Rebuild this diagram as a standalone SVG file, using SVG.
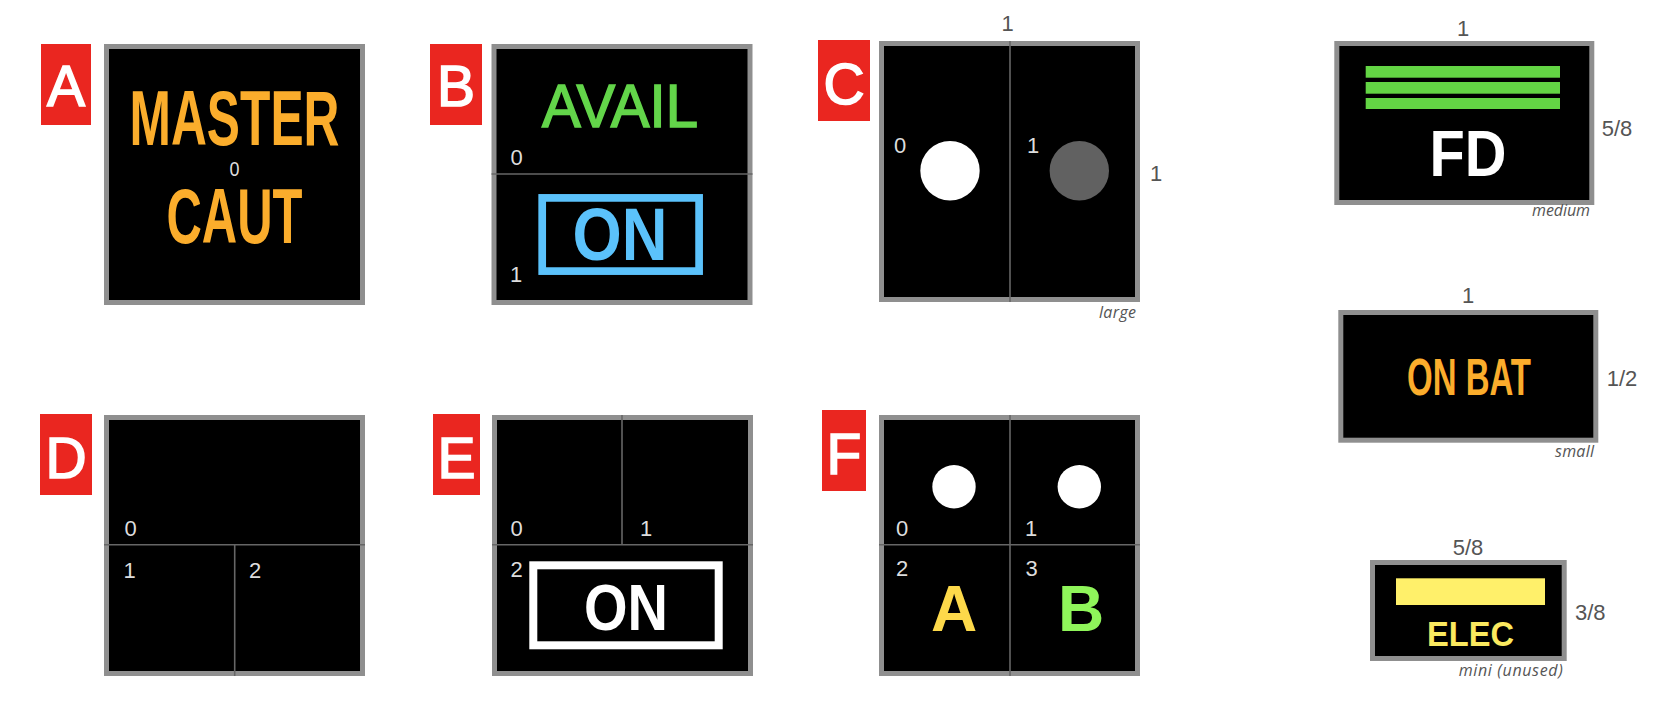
<svg xmlns="http://www.w3.org/2000/svg" width="1673" height="719" viewBox="0 0 1673 719">
<style>
.bg{fill:#ffffff}
.box{fill:#000000;stroke:#8f8f8f;stroke-width:5}
.div{stroke:#666666;stroke-width:1.6;fill:none}
.tag{fill:#ea2620}
.tagt{fill:#ffffff;font-family:"Liberation Sans",Arial,sans-serif;font-size:57px;text-anchor:middle;stroke:#ffffff;stroke-width:1.6}
.idx{fill:#dddddd;font-family:"Liberation Sans",Arial,sans-serif;font-size:22px}
.dim{fill:#555555;font-family:"Liberation Sans",Arial,sans-serif;font-size:22px}
.note{fill:#555555;font-family:"Open Sans","Noto Sans",sans-serif;font-style:italic;font-size:16px;text-anchor:end}
.cond{font-family:"Liberation Sans",Arial,sans-serif;font-weight:bold;text-anchor:middle}
</style>
<rect class="bg" x="0" y="0" width="1673" height="719"/>

<g id="node-A">
  <rect class="tag" x="41" y="44" width="50" height="81"/>
  <text class="tagt" x="66" y="106">A</text>
  <rect class="box" x="106.5" y="46.5" width="256" height="256"/>
  <text class="cond" x="234.5" y="145" font-size="77" fill="#fbad2c" textLength="210" lengthAdjust="spacingAndGlyphs">MASTER</text>
  <text class="cond" x="234.5" y="243" font-size="78" fill="#fbad2c" textLength="136" lengthAdjust="spacingAndGlyphs">CAUT</text>
  <text x="234.5" y="175.7" fill="#dddddd" font-family="Liberation Sans, Arial, sans-serif" font-size="20" text-anchor="middle" textLength="10" lengthAdjust="spacingAndGlyphs">0</text>
</g>

<g id="node-B">
  <rect class="tag" x="430" y="44" width="52" height="81"/>
  <text class="tagt" x="456" y="106">B</text>
  <rect class="box" x="494" y="46.5" width="256" height="256"/>
  <line class="div" x1="491.5" y1="174" x2="752.5" y2="174"/>
  <text x="620" y="127.3" fill="#63d54a" stroke="#63d54a" stroke-width="1.6" font-family="Liberation Sans, Arial, sans-serif" font-size="61.5" text-anchor="middle" textLength="156" lengthAdjust="spacingAndGlyphs">AVAIL</text>
  <rect x="542.2" y="197.9" width="156.9" height="73.2" fill="none" stroke="#5bc2fb" stroke-width="7.7"/>
  <text class="cond" x="620" y="260" font-size="74" fill="#5bc2fb" textLength="95" lengthAdjust="spacingAndGlyphs">ON</text>
  <text class="idx" x="510.5" y="165">0</text>
  <text class="idx" x="510" y="281.7">1</text>
</g>

<g id="node-C">
  <rect class="tag" x="818" y="40" width="52" height="81"/>
  <text class="tagt" x="844" y="104">C</text>
  <rect class="box" x="881.5" y="43.5" width="256" height="256"/>
  <line class="div" x1="1010" y1="41" x2="1010" y2="302"/>
  <circle cx="950" cy="170.7" r="29.7" fill="#ffffff"/>
  <circle cx="1079.3" cy="170.7" r="29.7" fill="#616161"/>
  <text class="idx" x="894" y="153">0</text>
  <text class="idx" x="1027" y="153">1</text>
  <text class="dim" x="1007.7" y="30.7" text-anchor="middle">1</text>
  <text class="dim" x="1150" y="181">1</text>
  <text class="note" x="1136" y="318" textLength="37" lengthAdjust="spacing">large</text>
</g>

<g id="node-D">
  <rect class="tag" x="40" y="414" width="52" height="81"/>
  <text class="tagt" x="66" y="477.5">D</text>
  <rect class="box" x="106.5" y="417.5" width="256" height="256"/>
  <line class="div" x1="104" y1="544.7" x2="365" y2="544.7"/>
  <line class="div" x1="234.7" y1="544.7" x2="234.7" y2="676"/>
  <text class="idx" x="124.5" y="536">0</text>
  <text class="idx" x="123.5" y="578">1</text>
  <text class="idx" x="249" y="578">2</text>
</g>

<g id="node-E">
  <rect class="tag" x="433" y="414" width="47" height="81"/>
  <text class="tagt" x="456.5" y="477.5">E</text>
  <rect class="box" x="494.5" y="417.5" width="256" height="256"/>
  <line class="div" x1="492" y1="544.7" x2="753" y2="544.7"/>
  <line class="div" x1="622" y1="415" x2="622" y2="544.7"/>
  <rect x="533.3" y="565.3" width="185.4" height="80" fill="none" stroke="#ffffff" stroke-width="8"/>
  <text class="cond" x="626" y="630" font-size="65.6" fill="#ffffff" textLength="84" lengthAdjust="spacingAndGlyphs">ON</text>
  <text class="idx" x="510.5" y="536">0</text>
  <text class="idx" x="640" y="536">1</text>
  <text class="idx" x="510.5" y="576.7">2</text>
</g>

<g id="node-F">
  <rect class="tag" x="822" y="410" width="44" height="81"/>
  <text class="tagt" x="844" y="473.5">F</text>
  <rect class="box" x="881.5" y="417.5" width="256" height="256"/>
  <line class="div" x1="879" y1="544.7" x2="1140" y2="544.7"/>
  <line class="div" x1="1010" y1="415" x2="1010" y2="676"/>
  <circle cx="954" cy="486.7" r="21.7" fill="#ffffff"/>
  <circle cx="1079.3" cy="486.7" r="21.7" fill="#ffffff"/>
  <text class="idx" x="896" y="536">0</text>
  <text class="idx" x="1025" y="536">1</text>
  <text class="idx" x="896" y="576">2</text>
  <text class="idx" x="1025.5" y="576">3</text>
  <text class="cond" x="954" y="630.7" font-size="64" fill="#fdd94a">A</text>
  <text class="cond" x="1081" y="630.7" font-size="64" fill="#8ff55a">B</text>
</g>

<g id="node-FD">
  <rect class="box" x="1336.8" y="43.5" width="255" height="159"/>
  <rect x="1365.7" y="66" width="194.3" height="11.7" fill="#63d544"/>
  <rect x="1365.7" y="82" width="194.3" height="11.7" fill="#63d544"/>
  <rect x="1365.7" y="98" width="194.3" height="11" fill="#63d544"/>
  <text class="cond" x="1468" y="176" font-size="64" fill="#ffffff" textLength="77" lengthAdjust="spacingAndGlyphs">FD</text>
  <text class="dim" x="1463" y="36" text-anchor="middle">1</text>
  <text class="dim" x="1601.7" y="136">5/8</text>
  <text class="note" x="1590" y="216" textLength="58" lengthAdjust="spacing">medium</text>
</g>

<g id="node-ONBAT">
  <rect class="box" x="1340.8" y="312.5" width="255" height="127.7"/>
  <text class="cond" x="1469" y="395" font-size="51" fill="#fbad2c" textLength="124" lengthAdjust="spacingAndGlyphs">ON BAT</text>
  <text class="dim" x="1468" y="303" text-anchor="middle">1</text>
  <text class="dim" x="1606.7" y="386">1/2</text>
  <text class="note" x="1594" y="457" textLength="39" lengthAdjust="spacing">small</text>
</g>

<g id="node-ELEC">
  <rect class="box" x="1372.5" y="562.5" width="191.7" height="96"/>
  <rect x="1396" y="578.3" width="149" height="26.7" fill="#fff06a"/>
  <text class="cond" x="1470.5" y="646" font-size="35" fill="#fbe95f" textLength="87" lengthAdjust="spacingAndGlyphs">ELEC</text>
  <text class="dim" x="1468" y="554.7" text-anchor="middle">5/8</text>
  <text class="dim" x="1575" y="619.7">3/8</text>
  <text class="note" x="1562.7" y="676" textLength="104" lengthAdjust="spacing">mini (unused)</text>
</g>

<g id="connectors"></g>
</svg>
